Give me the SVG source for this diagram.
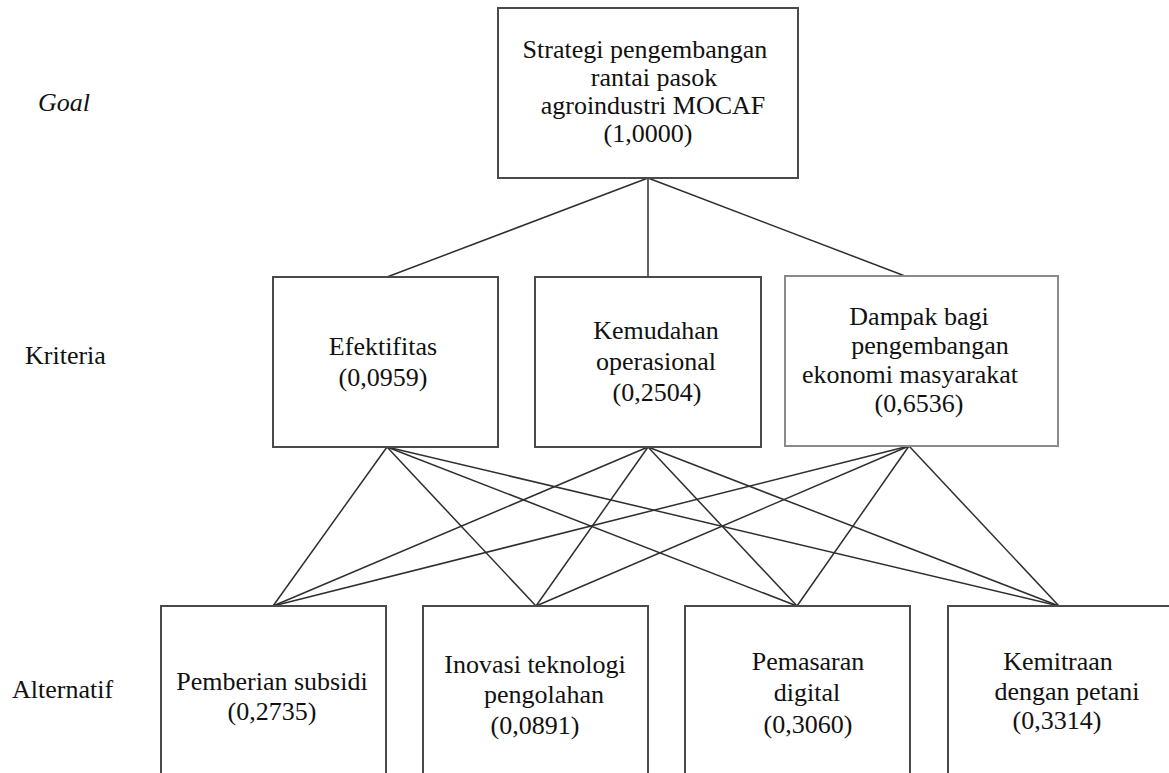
<svg xmlns="http://www.w3.org/2000/svg" width="1169" height="773" viewBox="0 0 1169 773">
<style>
.bg{fill:#ffffff}
.box{fill:#ffffff;stroke:#4a4a4a;stroke-width:2}
.box.light{stroke:#8a8a8a}
.t{font-family:"Liberation Serif","Times New Roman",serif;font-size:26px;fill:#111;text-anchor:middle}
.lab{font-family:"Liberation Serif","Times New Roman",serif;font-size:26px;fill:#111}
.it{font-style:italic}
.ln{stroke:#2e2e2e;stroke-width:1.5;fill:none}
</style>
<rect class="bg" x="0" y="0" width="1169" height="773"/>
<g id="labels">
<text class="lab it" x="38" y="111">Goal</text>
<text class="lab" x="25" y="364">Kriteria</text>
<text class="lab" x="12" y="698">Alternatif</text>
</g>
<g id="connectors">
<line class="ln" x1="648" y1="178" x2="387" y2="277"/>
<line class="ln" x1="648" y1="178" x2="648" y2="277"/>
<line class="ln" x1="648" y1="178" x2="905" y2="276"/>
<line class="ln" x1="387" y1="447" x2="273" y2="606"/>
<line class="ln" x1="387" y1="447" x2="536" y2="606"/>
<line class="ln" x1="387" y1="447" x2="797" y2="606"/>
<line class="ln" x1="387" y1="447" x2="1059" y2="606"/>
<line class="ln" x1="648" y1="447" x2="273" y2="606"/>
<line class="ln" x1="648" y1="447" x2="536" y2="606"/>
<line class="ln" x1="648" y1="447" x2="797" y2="606"/>
<line class="ln" x1="648" y1="447" x2="1059" y2="606"/>
<line class="ln" x1="909" y1="446" x2="273" y2="606"/>
<line class="ln" x1="909" y1="446" x2="536" y2="606"/>
<line class="ln" x1="909" y1="446" x2="797" y2="606"/>
<line class="ln" x1="909" y1="446" x2="1059" y2="606"/>
</g>
<g id="goal">
<rect class="box" x="498" y="8" width="300" height="170"/>
<text class="t" x="645" y="58">Strategi pengembangan</text>
<text class="t" x="654" y="86">rantai pasok</text>
<text class="t" x="653" y="114">agroindustri MOCAF</text>
<text class="t" x="648" y="142">(1,0000)</text>
</g>
<g id="k1">
<rect class="box" x="273" y="277" width="225" height="170"/>
<text class="t" x="383" y="355">Efektifitas</text>
<text class="t" x="383" y="386">(0,0959)</text>
</g>
<g id="k2">
<rect class="box" x="535" y="277" width="226" height="170"/>
<text class="t" x="656" y="339">Kemudahan</text>
<text class="t" x="656" y="370">operasional</text>
<text class="t" x="657" y="401">(0,2504)</text>
</g>
<g id="k3">
<rect class="box light" x="785" y="276" width="273" height="170"/>
<text class="t" x="919" y="325">Dampak bagi</text>
<text class="t" x="930" y="354">pengembangan</text>
<text class="t" x="910" y="383">ekonomi masyarakat</text>
<text class="t" x="919" y="412">(0,6536)</text>
</g>
<g id="a1">
<rect class="box" x="161" y="606" width="225" height="180"/>
<text class="t" x="272" y="690">Pemberian subsidi</text>
<text class="t" x="272" y="720">(0,2735)</text>
</g>
<g id="a2">
<rect class="box" x="423" y="606" width="225" height="180"/>
<text class="t" x="535" y="673">Inovasi teknologi</text>
<text class="t" x="544" y="703">pengolahan</text>
<text class="t" x="535" y="734">(0,0891)</text>
</g>
<g id="a3">
<rect class="box" x="685" y="606" width="225" height="180"/>
<text class="t" x="808" y="670">Pemasaran</text>
<text class="t" x="807" y="701">digital</text>
<text class="t" x="808" y="733">(0,3060)</text>
</g>
<g id="a4">
<rect class="box" x="948" y="606" width="226" height="180"/>
<text class="t" x="1058" y="670">Kemitraan</text>
<text class="t" x="1067" y="700">dengan petani</text>
<text class="t" x="1057" y="729">(0,3314)</text>
</g>
</svg>
